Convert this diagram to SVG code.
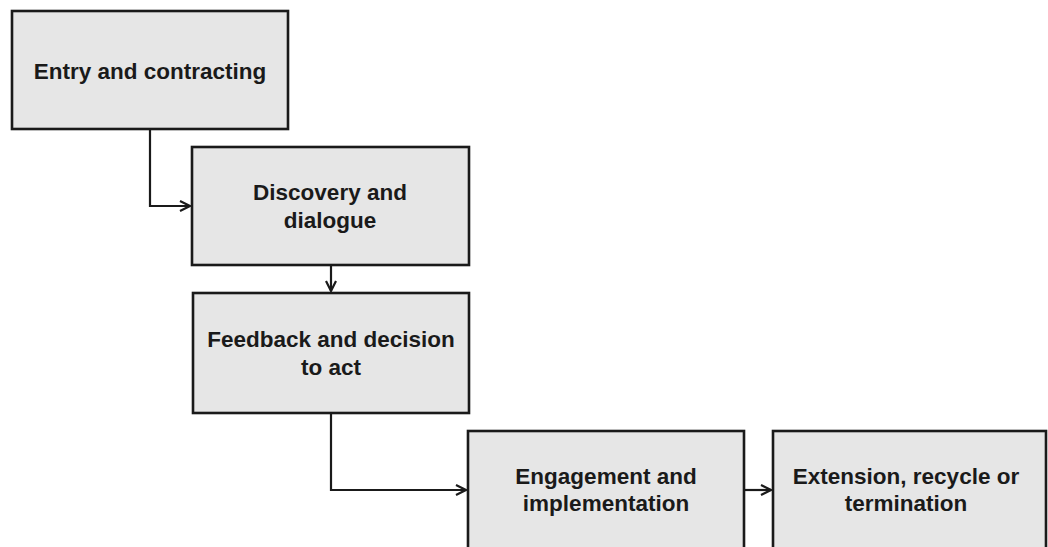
<svg xmlns="http://www.w3.org/2000/svg" width="1048" height="547" viewBox="0 0 1048 547">
<defs>
<style>
.box{fill:#e6e6e6;stroke:#1a1a1a;stroke-width:2.6}
.lbl{font-family:"Liberation Sans",Arial,sans-serif;font-weight:bold;font-size:22.5px;fill:#1a1a1a;text-anchor:middle}
.con{fill:none;stroke:#1a1a1a;stroke-width:2.2}
</style>
<marker id="arr" viewBox="0 0 12 12" refX="11" refY="6" markerWidth="12" markerHeight="12" markerUnits="userSpaceOnUse" orient="auto">
<path d="M1,1 L11,6 L1,11" fill="none" stroke="#1a1a1a" stroke-width="2.2"/>
</marker>
</defs>
<rect width="1048" height="547" fill="#ffffff"/>
<g id="connectors">
<path class="con" d="M150,129 V206 H190" marker-end="url(#arr)"/>
<path class="con" d="M331,265 V291" marker-end="url(#arr)"/>
<path class="con" d="M331,413 V490 H466" marker-end="url(#arr)"/>
<path class="con" d="M744,490 H771" marker-end="url(#arr)"/>
</g>
<g id="n1">
<rect class="box" x="12" y="11" width="276" height="118"/>
<text class="lbl" x="150" y="79">Entry and contracting</text>
</g>
<g id="n2">
<rect class="box" x="192" y="147" width="277" height="118"/>
<text class="lbl" x="330" y="200">Discovery and</text>
<text class="lbl" x="330" y="228">dialogue</text>
</g>
<g id="n3">
<rect class="box" x="193" y="293" width="276" height="120"/>
<text class="lbl" x="331" y="347">Feedback and decision</text>
<text class="lbl" x="331" y="375">to act</text>
</g>
<g id="n4">
<rect class="box" x="468" y="431" width="276" height="130"/>
<text class="lbl" x="606" y="484">Engagement and</text>
<text class="lbl" x="606" y="511">implementation</text>
</g>
<g id="n5">
<rect class="box" x="773" y="431" width="273" height="130"/>
<text class="lbl" x="906" y="484">Extension, recycle or</text>
<text class="lbl" x="906" y="511">termination</text>
</g>
</svg>
